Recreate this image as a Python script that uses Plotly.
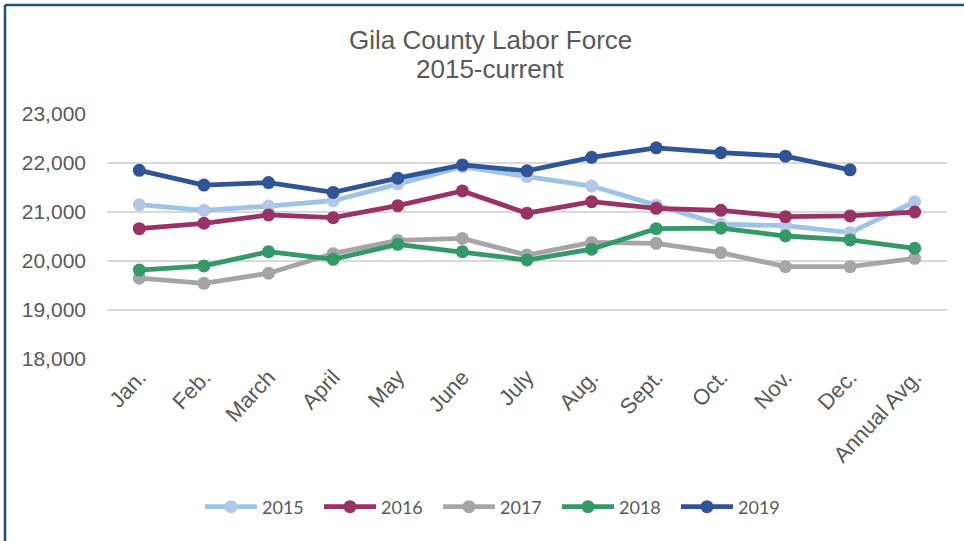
import plotly.graph_objects as go

months = ["Jan.", "Feb.", "March", "April", "May", "June", "July", "Aug.",
          "Sept.", "Oct.", "Nov.", "Dec.", "Annual Avg."]

y2015 = [21150, 21035, 21120, 21230, 21570, 21925, 21720, 21530, 21140, 20750, 20720, 20580, 21210]
y2016 = [20660, 20770, 20940, 20885, 21130, 21430, 20975, 21210, 21075, 21035, 20905, 20920, 21000]
y2017 = [19650, 19545, 19750, 20150, 20420, 20460, 20120, 20380, 20360, 20170, 19885, 19885, 20055]
y2018 = [19815, 19900, 20190, 20035, 20340, 20190, 20020, 20240, 20660, 20670, 20510, 20430, 20260]
y2019 = [21850, 21550, 21600, 21400, 21690, 21960, 21840, 22115, 22310, 22210, 22140, 21860, None]

title_lines = ["Gila County Labor Force", "2015-current"]

series = [
    ("2015", y2015, "#9DC3E6", "#B4C7E7"),
    ("2016", y2016, "#993366", "#993366"),
    ("2017", y2017, "#A5A5A5", "#A5A5A5"),
    ("2018", y2018, "#339966", "#339966"),
    ("2019", y2019, "#2F5597", "#2F5597"),
]

fig = go.Figure()
for name, vals, lc, mc in series:
    fig.add_trace(go.Scatter(
        x=months, y=vals, name=name, mode="lines+markers",
        line=dict(color=lc, width=4.8),
        marker=dict(color=mc, size=13),
    ))

W, H = 964, 541
L, R, T, B = 107, 17, 114, 182
pw, ph = W - L - R, H - T - B

def px(x):
    return (x - L) / pw

def py(y):
    return (H - B - y) / ph

ARIAL = "Arial, Liberation Sans, sans-serif"

annotations = []
for txt, ypix in zip(title_lines, [40, 69]):
    annotations.append(dict(
        text=txt, xref="paper", yref="paper", x=px(490), y=py(ypix),
        xanchor="center", yanchor="middle", showarrow=False,
        font=dict(family=ARIAL, size=26, color="#595959")))

fig.update_layout(
    width=W, height=H,
    margin=dict(l=L, r=R, t=T, b=B, autoexpand=False),
    paper_bgcolor="white", plot_bgcolor="white",
    font=dict(family=ARIAL, color="#595959"),
    annotations=annotations,
    xaxis=dict(showgrid=False, showline=False, tickangle=-47, automargin=False,
               range=[-0.5, len(months) - 0.5],
               tickfont=dict(family=ARIAL, size=22, color="#595959"), ticks=""),
    yaxis=dict(range=[18000, 23000], dtick=1000, tickformat=",", automargin=False,
               gridcolor="#D9D9D9", gridwidth=1.5, zeroline=False,
               tickfont=dict(family=ARIAL, size=21, color="#595959"), ticklabelstandoff=20),
    legend=dict(orientation="h", x=px(200), xanchor="left", y=py(507), yanchor="middle",
                font=dict(family="Lato, Liberation Sans", size=18, color="#595959"),
                itemwidth=52, entrywidth=52, entrywidthmode="pixels", tracegroupgap=0),
    showlegend=True,
    shapes=[
        dict(type="line", xref="paper", yref="paper",
             x0=px(5), x1=px(970), y0=py(5), y1=py(5),
             line=dict(color="#1F4E79", width=2.5)),
        dict(type="line", xref="paper", yref="paper",
             x0=px(5), x1=px(5), y0=py(5), y1=py(545),
             line=dict(color="#1F4E79", width=2.5)),
    ],
)

fig.write_html("out.html", config={"displayModeBar": False},
               post_script="document.body.style.margin='0';")
